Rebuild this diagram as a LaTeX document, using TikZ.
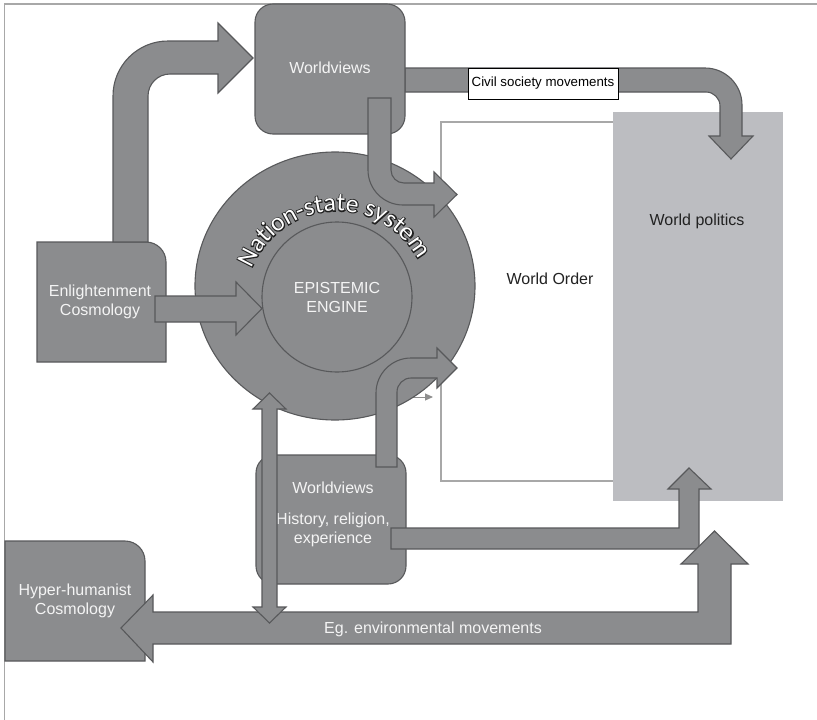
\documentclass[tikz,border=0pt]{standalone}
\usepackage{fontspec}
\setmainfont{Liberation Sans}
\newfontfamily\nsfont{Carlito}
\usetikzlibrary{arrows.meta,decorations.text}
\definecolor{gfill}{HTML}{8B8C8E}
\definecolor{gline}{HTML}{58595B}
\definecolor{wpfill}{HTML}{BCBDC1}
\definecolor{frameg}{HTML}{A8A8A8}
\definecolor{txtw}{HTML}{F4F4F4}
\definecolor{txtd}{HTML}{222222}
\newcommand{\strokedtext}{\color{txtd}\special{pdf:literal direct 0.13 0.13 0.13 RG 2 Tr 1.9 w}}
\begin{document}
\begin{tikzpicture}[x=1pt,y=-1pt,
  blockarrow/.style={fill=gfill,draw=gline,line width=1.1pt,line join=miter},
  shapebox/.style={fill=gfill,draw=gline,line width=1.1pt},
  lbl/.style={text=txtw,font=\fontsize{16}{19}\selectfont,align=center,inner sep=0pt},
  dlbl/.style={text=txtd,font=\fontsize{16}{19}\selectfont,align=center,inner sep=0pt}]
\useasboundingbox (0,0) rectangle (817,720);
\fill[white] (0,0) rectangle (817,720);
% frame
\draw[frameg,line width=1.5pt] (4.5,720) -- (4.5,4) -- (817,4);
% World Order outline and World politics block
\draw[frameg,line width=1.3pt] (441,122) rectangle (650,481);
\fill[wpfill] (613,112) rectangle (783,501);
\node[dlbl] (wo) at (550,279) {World Order};
\node[dlbl] (wp) at (697,221) {World politics};
% thin grey arrow
\coordinate (ta) at (400,397);
\coordinate (tb) at (433,397);
\draw[color=frameg!85!black,line width=1pt,-{Triangle[length=8pt,width=7pt]}] (ta) -- (tb);
% nation-state circle
\draw[shapebox] (335,286) ellipse [x radius=140, y radius=134];
\draw[shapebox] (337,297) circle [radius=75];
\node[lbl] (ee) at (337,297) {EPISTEMIC\\ENGINE};
\begin{scope}[shift={(337,303)}]
  \path[decorate,decoration={text along path,text align=center,
    text={|\nsfont\fontsize{25.5}{26}\selectfont\strokedtext|Nation-state system}}]
    (166:92pt) arc[start angle=166,end angle=20,radius=92pt];
  \path[decorate,decoration={text along path,text align=center,
    text={|\nsfont\fontsize{25.5}{26}\selectfont\color{white}|Nation-state system}}]
    (166:92pt) arc[start angle=166,end angle=20,radius=92pt];
\end{scope}
% civil society arrow (behind top worldviews box)
\draw[blockarrow] (405,68) -- (705,68) .. controls (725.4,68) and (742,84.6) .. (742,105)
  -- (742,136) -- (753,136) -- (731,159) -- (709,136) -- (720,136) -- (720,106)
  .. controls (720,98.3) and (713.7,92) .. (706,92) -- (405,92) -- cycle;
\node[draw=black,fill=white,line width=0.8pt,inner sep=0pt,minimum width=150pt,minimum height=31pt,
  font=\fontsize{13.3}{15}\selectfont,text=black] (csm) at (543,83.5) {Civil society movements};
% top worldviews box
\draw[shapebox,rounded corners=18pt] (255,4) rectangle (405,134);
\node[lbl] (wvtop) at (330,68) {Worldviews};
% arrow from top worldviews down into circle
\draw[blockarrow] (368,98) -- (391,98) -- (391,170) .. controls (391,177.2) and (396.8,183) .. (404,183)
  -- (434,183) -- (434,172) -- (457,194.5) -- (434,217) -- (434,205) -- (403,205)
  .. controls (383.7,205) and (368,189.3) .. (368,170) -- cycle;
% Enlightenment box
\draw[shapebox] (37,362) -- (37,242) -- (146,242) .. controls (157,242) and (166,251) .. (166,262) -- (166,362) -- cycle;
\node[lbl] (enl) at (100,302) {Enlightenment\\Cosmology};
% arrow Enlightenment -> Worldviews
\draw[blockarrow] (113,242) -- (113,96) .. controls (113,65.6) and (137.6,41) .. (168,41) -- (218,41)
  -- (218,23) -- (253,58) -- (218,93) -- (218,74) -- (170,74)
  .. controls (157.9,74) and (148,83.9) .. (148,96) -- (148,242) -- cycle;
% arrow Enlightenment -> epistemic engine
\draw[blockarrow] (155,296) -- (236,296) -- (236,282) -- (262,308.5) -- (236,335) -- (236,322) -- (155,322) -- cycle;
% bottom worldviews box
\draw[shapebox,rounded corners=18pt] (256,455) rectangle (406,584);
\node[lbl] (wvbot) at (333,488) {Worldviews};
\node[lbl] (hre) at (333,529.5) {History, religion,\\experience};
% arrow bottom worldviews up into circle
\draw[blockarrow] (376,467) -- (376,393) .. controls (376,373.7) and (391.7,358) .. (411,358) -- (437,358)
  -- (437,348) -- (457,368) -- (437,388) -- (437,378) -- (411,378)
  .. controls (403.3,378) and (397,384.3) .. (397,392) -- (397,467) -- cycle;
% arrow bottom worldviews -> world politics
\draw[blockarrow] (391,528) -- (679,528) -- (679,489) -- (668,489) -- (689,468) -- (711,489) -- (699,489)
  -- (699,549) -- (391,549) -- cycle;
% Hyper-humanist box
\draw[shapebox] (5,661) -- (5,541) -- (125,541) .. controls (136,541) and (145,550) .. (145,561) -- (145,661) -- cycle;
\node[lbl] (hyp) at (75,601) {Hyper-humanist\\Cosmology};
% environmental movements arrow
\draw[blockarrow] (121,628) -- (153,595) -- (153,612) -- (698,612) -- (698,564) -- (681,564) -- (714.5,531)
  -- (748,564) -- (731,564) -- (731,644) -- (153,644) -- (153,662) -- cycle;
\node[lbl] (env) at (433,629) {Eg. environmental movements};
% double arrow
\draw[blockarrow] (262,409) -- (253,409) -- (269.5,393) -- (286,409) -- (277,409) -- (277,607)
  -- (286,607) -- (269.5,623) -- (253,607) -- (262,607) -- cycle;
\end{tikzpicture}
\end{document}
